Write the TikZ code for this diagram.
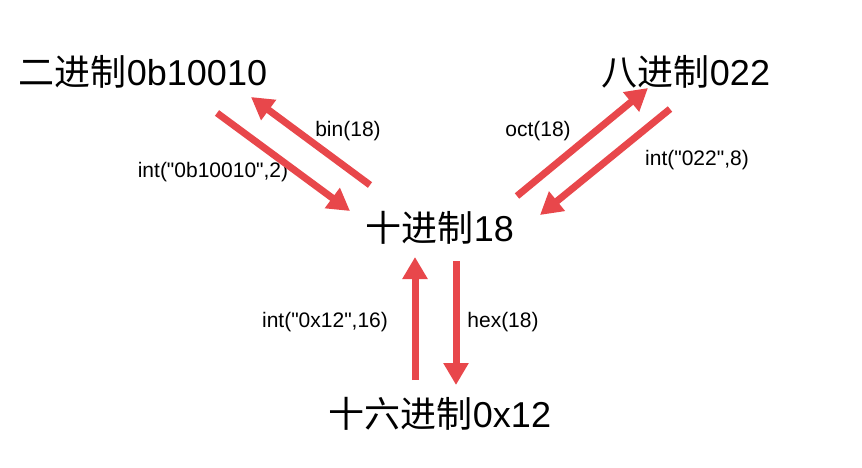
\documentclass[tikz,border=0pt]{standalone}
\usepackage{fontspec}
\setmainfont{Liberation Sans}
\newfontfamily\lat{Liberation Sans}
\newfontfamily\cjk{Noto Sans CJK SC}
\usetikzlibrary{arrows.meta}
\definecolor{redarrow}{HTML}{E8474B}
\tikzset{
  bigtext/.style={font=\lat\fontsize{36}{40}\selectfont, inner sep=0pt, anchor=center},
  smalltext/.style={font=\lat\fontsize{21}{24}\selectfont, inner sep=0pt, anchor=center},
  redarr/.style={draw=redarrow, line width=7pt, -{Triangle[width=24pt,length=22pt]}}
}
\begin{document}
\begin{tikzpicture}[x=1pt,y=-1pt]
\useasboundingbox (0,0) rectangle (862,467);
\node[bigtext] (bin) at (143,72) {{\cjk 二进制}0b10010};
\node[bigtext] (oct) at (686,72) {{\cjk 八进制}022};
\node[bigtext] (dec) at (440,228) {{\cjk 十进制}18};
\node[bigtext] (hex) at (440,414) {{\cjk 十六进制}0x12};
\node[smalltext] (lbin) at (348,131) {bin(18)};
\node[smalltext] (lintb) at (213,172) {int("0b10010",2)};
\node[smalltext] (loct) at (538,131) {oct(18)};
\node[smalltext] (linto) at (697,160) {int("022",8)};
\node[smalltext] (linth) at (325,322) {int("0x12",16)};
\node[smalltext] (lhex) at (503,322) {hex(18)};
\coordinate (a1s) at (370,185);
\coordinate (a1e) at (251,97);
\coordinate (a2s) at (217,113);
\coordinate (a2e) at (350,211);
\coordinate (a3s) at (517,196);
\coordinate (a3e) at (648,88);
\coordinate (a4s) at (670,109);
\coordinate (a4e) at (540,215);
\coordinate (a5s) at (415,380);
\coordinate (a5e) at (415,257);
\coordinate (a6s) at (456,261);
\coordinate (a6e) at (456,385);
\draw[redarr] (a1s) -- (a1e);
\draw[redarr] (a2s) -- (a2e);
\draw[redarr] (a3s) -- (a3e);
\draw[redarr] (a4s) -- (a4e);
\draw[redarr] (a5s) -- (a5e);
\draw[redarr] (a6s) -- (a6e);
\end{tikzpicture}
\end{document}
